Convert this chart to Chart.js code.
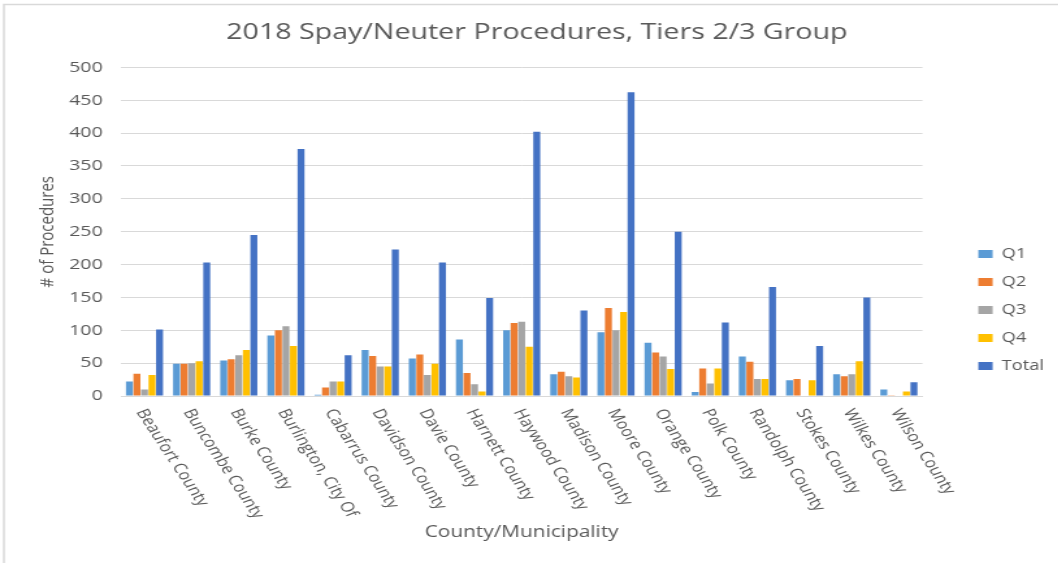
<!DOCTYPE html>
<html>
<head>
<meta charset="utf-8">
<script src="https://cdn.jsdelivr.net/npm/chart.js@4.4.1/dist/chart.umd.min.js"></script>
<style>
  html, body { margin: 0; padding: 0; background: #fff; overflow: hidden; }
  #wrap { width: 1058px; height: 563px; overflow: hidden; }
  /* the source image is stretched sideways, so the canvas is too */
  #procChart { transform: scaleX(1.3); transform-origin: 0 0; }
</style>
</head>
<body>
<div id="wrap"><canvas id="procChart" width="814" height="563"></canvas></div>
<script>
// Kategori (sumbu X)
const counties = ['Beaufort County', 'Buncombe County', 'Burke County', 'Burlington, City Of',
  'Cabarrus County', 'Davidson County', 'Davie County', 'Harnett County', 'Haywood County',
  'Madison County', 'Moore County', 'Orange County', 'Polk County', 'Randolph County',
  'Stokes County', 'Wilkes County', 'Wilson County'];

// Nilai per kuartal
const q1 = [22, 49, 54, 92, 2, 70, 57, 86, 100, 33, 97, 81, 6, 60, 24, 33, 10];
const q2 = [34, 49, 56, 100, 13, 61, 63, 35, 111, 37, 134, 66, 42, 52, 26, 30, 1];
const q3 = [10, 50, 62, 106, 22, 45, 32, 18, 113, 30, 100, 60, 19, 26, 0, 33, 0];
const q4 = [32, 53, 70, 76, 22, 45, 49, 7, 75, 28, 128, 41, 42, 26, 24, 53, 7];
const total = [101, 203, 245, 376, 62, 223, 203, 149, 402, 130, 462, 250, 112, 166, 76, 150, 21];

// Tick sumbu Y
const yTicks = [0, 50, 100, 150, 200, 250, 300, 350, 400, 450, 500];

const fontFam = '"Open Sans", sans-serif';
const grey = '#595959';

const seriesInfo = [
  { label: 'Q1', data: q1, color: '#5B9BD5' },
  { label: 'Q2', data: q2, color: '#ED7D31' },
  { label: 'Q3', data: q3, color: '#A5A5A5' },
  { label: 'Q4', data: q4, color: '#FFC000' },
  { label: 'Total', data: total, color: '#4472C4' }
];

const datasets = seriesInfo.map(s => ({
  label: s.label,
  data: s.data,
  backgroundColor: s.color,
  borderWidth: 0,
  barPercentage: 0.92,
  categoryPercentage: 0.8
}));

// Label sumbu X diputar searah jarum jam (seperti Excel)
const slantLabels = {
  id: 'slantLabels',
  afterDraw(chart) {
    const xs = chart.scales.x;
    const ctx = chart.ctx;
    ctx.save();
    ctx.font = '14px ' + fontFam;
    ctx.fillStyle = grey;
    ctx.textAlign = 'left';
    ctx.textBaseline = 'middle';
    counties.forEach((name, i) => {
      const x = xs.getPixelForTick(i);
      ctx.save();
      ctx.translate(x - 3, xs.top + 14);
      ctx.rotate(63 * Math.PI / 180);
      ctx.fillText(name, 0, 0);
      ctx.restore();
    });
    ctx.restore();
  }
};

// Geser judul dan legenda sedikit ke kanan
const nudge = {
  id: 'nudge',
  afterLayout(chart) {
    chart.legend.left += 29;
    chart.legend.right += 29;
    chart.titleBlock.left += 9;
    chart.titleBlock.right += 9;
  }
};

// Bingkai luar (hanya kiri dan atas)
const frame = {
  id: 'frame',
  beforeDraw(chart) {
    const ctx = chart.ctx;
    ctx.save();
    ctx.fillStyle = '#fff';
    ctx.fillRect(0, 0, chart.width, chart.height);
    ctx.strokeStyle = '#d9d9d9';
    ctx.lineWidth = 1.5;
    ctx.beginPath();
    ctx.moveTo(3, chart.height);
    ctx.lineTo(3, 4.5);
    ctx.lineTo(chart.width, 4.5);
    ctx.stroke();
    ctx.restore();
  }
};

new Chart(document.getElementById('procChart'), {
  type: 'bar',
  data: { labels: counties, datasets: datasets },
  plugins: [frame, nudge, slantLabels],
  options: {
    responsive: false,
    animation: false,
    layout: { padding: { left: 24, right: 30, top: 20, bottom: 17 } },
    scales: {
      x: {
        afterFit: s => { s.height = 150; },
        grid: { display: false },
        border: { color: '#d9d9d9' },
        ticks: { display: false },
        title: { display: true, text: 'County/Municipality', color: grey, font: { size: 16, family: fontFam } }
      },
      y: {
        min: 0,
        max: 500,
        afterBuildTicks: s => { s.ticks = yTicks.map(v => ({ value: v })); },
        afterFit: s => { s.width = 69; },
        grid: { color: '#d9d9d9', drawTicks: false },
        border: { display: false },
        ticks: { color: grey, font: { size: 15, family: fontFam }, padding: 14 },
        title: { display: true, text: '# of Procedures', color: grey, font: { size: 15, family: fontFam } }
      }
    },
    plugins: {
      title: {
        display: true,
        text: '2018 Spay/Neuter Procedures, Tiers 2/3 Group',
        color: grey,
        font: { size: 22, family: fontFam, weight: 'normal' },
        padding: { top: 0, bottom: 21 }
      },
      legend: {
        position: 'right',
        title: { display: true, text: ' ', font: { size: 10 }, padding: 21 },
        labels: {
          color: grey,
          font: { size: 14, family: fontFam },
          boxWidth: 11,
          boxHeight: 8,
          padding: 14
        }
      },
      tooltip: { enabled: false }
    }
  }
});
</script>
</body>
</html>
